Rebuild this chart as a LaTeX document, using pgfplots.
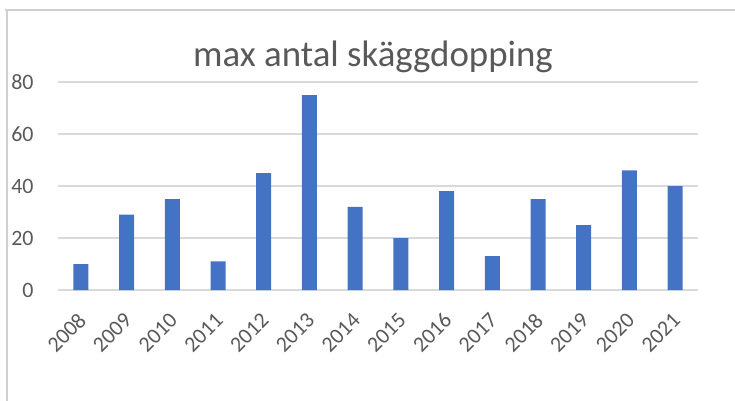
\documentclass[border=0pt]{standalone}
\usepackage{pgfplots}
\pgfplotsset{compat=1.18}
\usepackage{fontspec}
\setmainfont{Carlito}
\definecolor{barblue}{HTML}{4472C4}
\definecolor{gridgray}{HTML}{D9D9D9}
\definecolor{txtgray}{HTML}{595959}
\definecolor{framegray}{HTML}{D0D0D0}
\begin{document}
\begin{tikzpicture}
\path[use as bounding box] (0,0) rectangle (735bp,401bp);
\draw[framegray, line width=1.2bp] (5bp,391bp) -- (735bp,391bp);
\draw[framegray, line width=1.2bp] (7bp,391bp) -- (7bp,0bp);
\begin{axis}[
  at={(58bp,111bp)}, anchor=south west,
  scale only axis,
  width=640bp, height=208bp,
  xmin=-0.5, xmax=13.5,
  ymin=0, ymax=80,
  ytick={0,20,40,60,80},
  xtick={0,1,2,3,4,5,6,7,8,9,10,11,12,13},
  xticklabels={2008,2009,2010,2011,2012,2013,2014,2015,2016,2017,2018,2019,2020,2021},
  axis line style={draw=none},
  major tick length=0pt,
  ymajorgrids,
  grid style={gridgray, line width=1.3bp},
  /pgf/number format/assume math mode=true,
  tick label style={font=\fontsize{22}{22}\selectfont, text=txtgray},
  yticklabel style={anchor=east, xshift=-21bp},
  xticklabel style={rotate=45, anchor=east, xshift=-14.6bp, yshift=-20bp},
  clip=false,
]
\addplot[ybar, bar width=15bp, fill=barblue, draw=none] coordinates {
  (0,10) (1,29) (2,35) (3,11) (4,45) (5,75) (6,32)
  (7,20) (8,38) (9,13) (10,35) (11,25) (12,46) (13,40)
};
\end{axis}
\node[anchor=base, text=txtgray, font=\fontsize{37}{37}\selectfont, inner sep=0pt] at (373bp,334bp) {max antal skäggdopping};
\end{tikzpicture}
\end{document}
